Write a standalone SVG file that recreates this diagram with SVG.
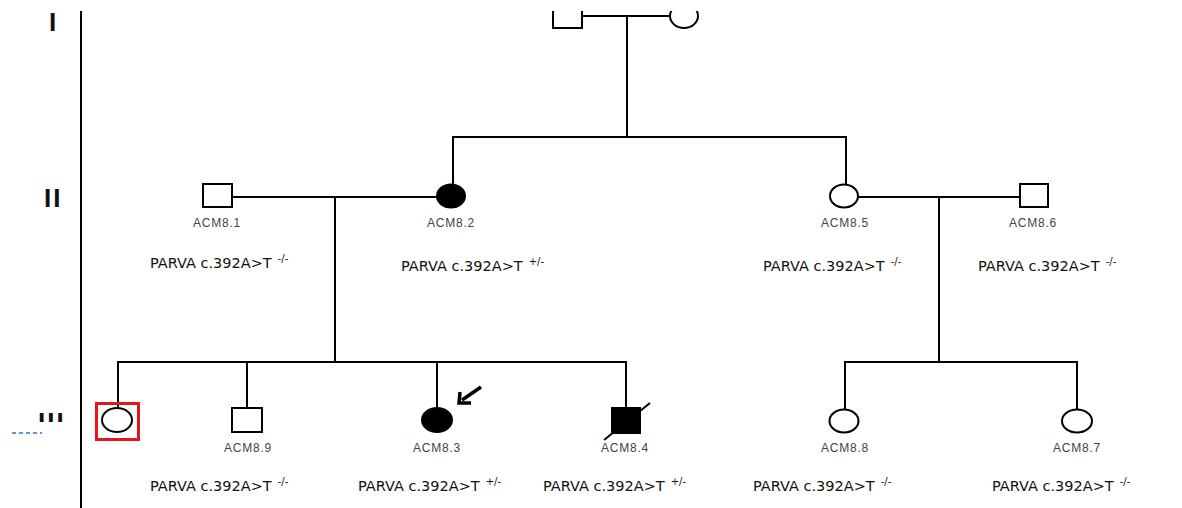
<svg xmlns="http://www.w3.org/2000/svg" width="1182" height="508" viewBox="0 0 1182 508">
<style>
.ln{stroke:#000;stroke-width:2;fill:none}
.sym{stroke:#000;stroke-width:2;fill:#fff}
.aff{stroke:#000;stroke-width:2;fill:#000}
.id{font-family:"Liberation Sans",Arial,sans-serif;font-size:12px;fill:#444;text-anchor:middle;letter-spacing:0.8px}
.gt{font-family:"DejaVu Sans","Liberation Sans",sans-serif;font-size:14.5px;fill:#111}
.sup{font-size:10px}
.gen{font-family:"Liberation Sans",Arial,sans-serif;font-size:26px;font-weight:bold;fill:#111;letter-spacing:2px}
</style>
<rect width="1182" height="508" fill="#fff"/>
<g id="connectors">
<line class="ln" x1="582" y1="16" x2="670" y2="16"/>
<line class="ln" x1="627" y1="16" x2="627" y2="137"/>
<line class="ln" x1="453" y1="137" x2="846" y2="137"/>
<line class="ln" x1="453" y1="136" x2="453" y2="185"/>
<line class="ln" x1="846" y1="136" x2="846" y2="185"/>
<line class="ln" x1="232" y1="197" x2="437" y2="197"/>
<line class="ln" x1="335" y1="197" x2="335" y2="362"/>
<line class="ln" x1="858" y1="197" x2="1020" y2="197"/>
<line class="ln" x1="939" y1="197" x2="939" y2="362"/>
<line class="ln" x1="117" y1="362" x2="627" y2="362"/>
<line class="ln" x1="118" y1="361" x2="118" y2="408"/>
<line class="ln" x1="247" y1="361" x2="247" y2="408"/>
<line class="ln" x1="437" y1="361" x2="437" y2="408"/>
<line class="ln" x1="626" y1="361" x2="626" y2="408"/>
<line class="ln" x1="845" y1="362" x2="1077" y2="362"/>
<line class="ln" x1="845" y1="361" x2="845" y2="409"/>
<line class="ln" x1="1077" y1="361" x2="1077" y2="409"/>
</g>
<g id="I-1"><rect class="sym" x="553" y="4" width="29" height="24"/></g>
<g id="I-2"><ellipse class="sym" cx="684" cy="16" rx="14" ry="12"/></g>
<g id="ACM8.1">
<rect class="sym" x="203" y="184" width="29" height="23"/>
<text class="id" x="217" y="227">ACM8.1</text>
<text class="gt" x="150" y="268">PARVA c.392A&gt;T<tspan class="sup" dx="6" dy="-6">-/-</tspan></text>
</g>
<g id="ACM8.2">
<ellipse class="aff" cx="451" cy="196" rx="14" ry="11.5"/>
<text class="id" x="451" y="227">ACM8.2</text>
<text class="gt" x="401" y="271">PARVA c.392A&gt;T<tspan class="sup" dx="6" dy="-6">+/-</tspan></text>
</g>
<g id="ACM8.5">
<ellipse class="sym" cx="844" cy="196" rx="14" ry="11.5"/>
<text class="id" x="845" y="227">ACM8.5</text>
<text class="gt" x="763" y="271">PARVA c.392A&gt;T<tspan class="sup" dx="6" dy="-6">-/-</tspan></text>
</g>
<g id="ACM8.6">
<rect class="sym" x="1020" y="184" width="28" height="23"/>
<text class="id" x="1033" y="227">ACM8.6</text>
<text class="gt" x="978" y="271">PARVA c.392A&gt;T<tspan class="sup" dx="6" dy="-6">-/-</tspan></text>
</g>
<g id="III-1">
<ellipse class="sym" cx="117" cy="420" rx="15" ry="12"/>
<rect x="96.5" y="403.5" width="42" height="36" fill="none" stroke="#e8141c" stroke-width="3"/>
</g>
<g id="ACM8.9">
<rect class="sym" x="232" y="408" width="30" height="24"/>
<text class="id" x="248" y="452">ACM8.9</text>
<text class="gt" x="150" y="491">PARVA c.392A&gt;T<tspan class="sup" dx="6" dy="-6">-/-</tspan></text>
</g>
<g id="ACM8.3">
<ellipse class="aff" cx="437" cy="420" rx="15" ry="12"/>
<path d="M481,387 L462,400" stroke="#000" stroke-width="3.5" fill="none"/>
<path d="M460,392 L459,403 L471,403" stroke="#000" stroke-width="3.5" fill="none" stroke-linejoin="miter"/>
<text class="id" x="437" y="452">ACM8.3</text>
<text class="gt" x="358" y="491">PARVA c.392A&gt;T<tspan class="sup" dx="6" dy="-6">+/-</tspan></text>
</g>
<g id="ACM8.4">
<rect class="aff" x="612" y="408" width="28" height="25"/>
<line x1="604" y1="440" x2="650" y2="403" stroke="#000" stroke-width="2"/>
<text class="id" x="625" y="452">ACM8.4</text>
<text class="gt" x="543" y="491">PARVA c.392A&gt;T<tspan class="sup" dx="6" dy="-6">+/-</tspan></text>
</g>
<g id="ACM8.8">
<ellipse class="sym" cx="844" cy="421" rx="14.5" ry="11.5"/>
<text class="id" x="845" y="452">ACM8.8</text>
<text class="gt" x="753" y="491">PARVA c.392A&gt;T<tspan class="sup" dx="6" dy="-6">-/-</tspan></text>
</g>
<g id="ACM8.7">
<ellipse class="sym" cx="1077" cy="421" rx="15" ry="11.5"/>
<text class="id" x="1077" y="452">ACM8.7</text>
<text class="gt" x="992" y="491">PARVA c.392A&gt;T<tspan class="sup" dx="6" dy="-6">-/-</tspan></text>
</g>
<g id="generations">
<line x1="81" y1="0" x2="81" y2="508" stroke="#000" stroke-width="2"/>
<text class="gen" x="49" y="31">I</text>
<text class="gen" x="44" y="207">II</text>
<text class="gen" x="38" y="431">III</text>
<rect x="0" y="422" width="73" height="13" fill="#fff"/>
<line x1="12" y1="433" x2="42" y2="433" stroke="#3a6fd8" stroke-width="1.5" stroke-dasharray="4,3"/>
</g>
<rect x="0" y="0" width="1182" height="11" fill="#fff"/>
</svg>
